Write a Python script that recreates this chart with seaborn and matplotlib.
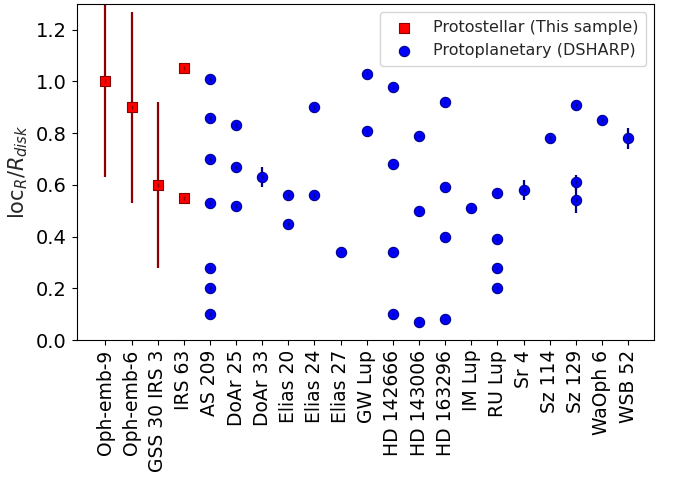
import numpy as np
import pandas as pd
import seaborn as sns
from matplotlib import pyplot as plt

names = ['Oph-emb-9', 'Oph-emb-6', 'GSS 30 IRS 3', 'IRS 63', 'AS 209', 'DoAr 25',
         'DoAr 33', 'Elias 20', 'Elias 24', 'Elias 27', 'GW Lup', 'HD 142666',
         'HD 143006', 'HD 163296', 'IM Lup', 'RU Lup', 'Sr 4', 'Sz 114', 'Sz 129',
         'WaOph 6', 'WSB 52']

# protostellar (this sample)
proto_src = ['Oph-emb-9', 'Oph-emb-6', 'GSS 30 IRS 3', 'IRS 63', 'IRS 63']
proto_loc = [1.00, 0.90, 0.60, 1.05, 0.55]
proto_err = [0.37, 0.37, 0.32, 0.0, 0.0]

# protoplanetary (DSHARP)
dsharp_src = ['AS 209'] * 7 + ['DoAr 25'] * 3 + ['DoAr 33'] + ['Elias 20'] * 2 + \
             ['Elias 24'] * 2 + ['Elias 27'] + ['GW Lup'] * 2 + ['HD 142666'] * 4 + \
             ['HD 143006'] * 3 + ['HD 163296'] * 4 + ['IM Lup'] + ['RU Lup'] * 4 + \
             ['Sr 4'] + ['Sz 114'] + ['Sz 129'] * 3 + ['WaOph 6'] + ['WSB 52']
dsharp_loc = [1.01, 0.86, 0.70, 0.53, 0.28, 0.20, 0.10,
              0.83, 0.67, 0.52,
              0.63,
              0.56, 0.45,
              0.90, 0.56,
              0.34,
              1.03, 0.81,
              0.98, 0.68, 0.34, 0.10,
              0.79, 0.50, 0.07,
              0.92, 0.59, 0.40, 0.08,
              0.51,
              0.57, 0.39, 0.28, 0.20,
              0.58,
              0.78,
              0.91, 0.61, 0.54,
              0.85,
              0.78]
dsharp_err = [0] * 10 + [0.04] + [0] * 23 + [0.04] + [0] + [0, 0.03, 0.05] + [0] + [0.04]

pos = {n: i for i, n in enumerate(names)}
proto = pd.DataFrame({'x': [pos[s] for s in proto_src], 'loc': proto_loc, 'err': proto_err})
dsharp = pd.DataFrame({'x': [pos[s] for s in dsharp_src], 'loc': dsharp_loc, 'err': dsharp_err})

sns.set_style('ticks')
plt.rcParams['font.family'] = ['DejaVu Sans']
plt.rcParams['axes.edgecolor'] = 'black'
plt.rcParams['xtick.color'] = 'black'
plt.rcParams['ytick.color'] = 'black'
fig = plt.figure(figsize=(6.73, 4.79), dpi=100)
ax = fig.add_axes([0.114, 0.29, 0.858, 0.702])

ax.errorbar(proto['x'], proto['loc'], yerr=proto['err'], fmt='none', ecolor='darkred', elinewidth=1.6, zorder=2)
ax.errorbar(dsharp['x'], dsharp['loc'], yerr=dsharp['err'], fmt='none', ecolor='darkblue', elinewidth=1.6, zorder=2)
sns.scatterplot(data=proto, x='x', y='loc', marker='s', s=52, color='red', edgecolor='darkred',
                linewidth=0.8, label='Protostellar (This sample)', ax=ax, zorder=3)
sns.scatterplot(data=dsharp, x='x', y='loc', marker='o', s=55, color='blue', edgecolor='darkblue',
                linewidth=0.8, label='Protoplanetary (DSHARP)', ax=ax, zorder=3)
# tiny tick drawn inside each marker
sns.scatterplot(data=proto, x='x', y='loc', marker='|', s=10, color='darkred', linewidth=1.0, ax=ax, zorder=4)
sns.scatterplot(data=dsharp, x='x', y='loc', marker='|', s=10, color='darkblue', linewidth=1.0, ax=ax, zorder=4)

ax.set_xticks(range(len(names)))
ax.set_xticklabels(names, rotation=90, fontsize=13.5)
ax.tick_params(axis='y', labelsize=14)
ax.set_xlim(-1.1, 21.0)
ax.set_ylim(0, 1.3)
ax.set_yticks(np.arange(0, 1.21, 0.2))
ax.set_xlabel('')
ax.set_ylabel(r'loc$_R$/$R_{disk}$', fontsize=15)
h, l = ax.get_legend_handles_labels()
ax.legend(h[:2], l[:2], loc='upper right', fontsize=11.5, borderpad=0.5)
fig.savefig('out.png', dpi=100)
